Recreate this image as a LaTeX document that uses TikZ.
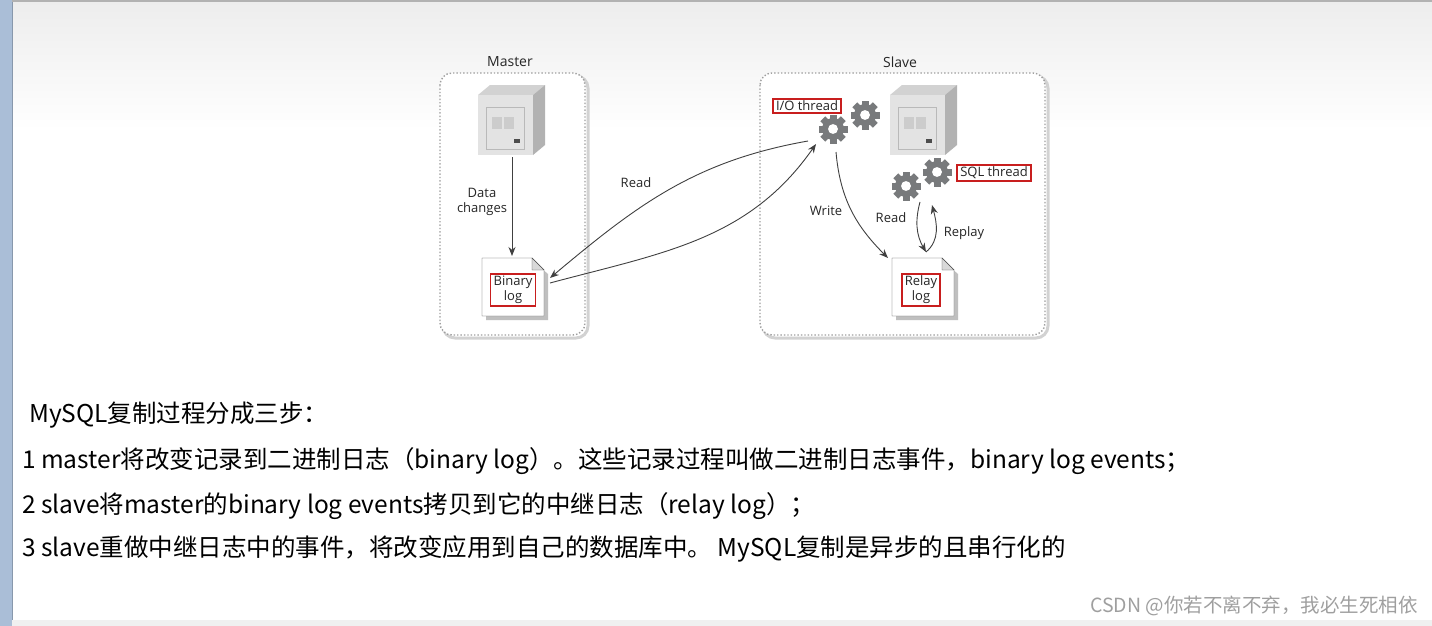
\documentclass[tikz,border=0pt]{standalone}
\usepackage{fontspec}
\setmainfont{Liberation Sans}
\newfontfamily\cjk{Noto Sans CJK SC}
\newfontfamily\lab{Open Sans}
\usetikzlibrary{positioning,calc,arrows.meta}

\definecolor{gearc}{RGB}{120,122,124}
\definecolor{redbox}{RGB}{200,30,30}
\definecolor{barc}{RGB}{170,190,215}

\tikzset{
  area/.style = {draw=gray!75, dotted, line width=1.4pt, rounded corners=12pt},
  areashade/.style = {draw=gray!35, line width=3pt, rounded corners=12pt},
  title/.style = {font=\lab\fontsize{14}{16}\selectfont, text=black!85},
  lbl/.style = {font=\lab\fontsize{13}{15}\selectfont, text=black!85, align=center},
  tag/.style = {draw=redbox, line width=1.6pt, font=\lab\fontsize{13}{15}\selectfont, inner xsep=3pt, inner ysep=2pt, align=center, text=black!85},
  flow/.style = {-{Stealth[length=9pt,width=7pt]}, draw=black!75, line width=0.9pt},
  tooth/.style = {fill=gearc, minimum size=7pt, inner sep=0pt},
  stepline/.style = {font=\cjk\fontsize{24.5}{27}\selectfont, anchor=base west, inner sep=0pt}
}

% gear at (x,y) with radius r
\newcommand{\gearat}[3]{%
  \fill[gearc] (#1,#2) circle (#3);
  \foreach \a in {0,45,...,315}
    \node[tooth, rotate=\a] at ([shift={(\a:#3)}]#1,#2) {};
  \fill[white] (#1,#2) circle (#3*0.45);
}
% server box, front face top left at (x,y)
\newcommand{\serverat}[2]{%
  \fill[gray!35] (#1,#2) -- ++(12,-10) -- ++(55,0) -- ++(-12,10) -- cycle;
  \fill[gray!60] (#1+55,#2) -- ++(12,-10) -- ++(0,60) -- ++(-12,10) -- cycle;
  \fill[gray!22] (#1,#2) rectangle ++(55,60);
  \draw[gray!55] (#1+8,#2+12) rectangle ++(38,42);
  \fill[gray!40] (#1+14,#2+22) rectangle ++(10,12);
  \fill[gray!40] (#1+26,#2+22) rectangle ++(10,12);
  \fill[black!70] (#1+36,#2+44) rectangle ++(6,4);
}
% document with folded corner, top left at (x,y)
\newcommand{\docat}[2]{%
  \fill[gray!50] (#1+4,#2+4) -- ++(48,0) -- ++(14,12) -- ++(0,46) -- ++(-62,0) -- cycle;
  \draw[black!70, fill=white] (#1,#2) -- ++(50,0) -- ++(12,12) -- ++(0,46) -- ++(-62,0) -- cycle;
  \draw[black!70, fill=gray!30] (#1+50,#2) -- ++(0,12) -- ++(12,0) -- cycle;
}

\begin{document}
\begin{tikzpicture}[x=1pt, y=-1pt]
  \useasboundingbox (0,0) rectangle (1432,626);
  \shade[top color=gray!14, bottom color=white] (12,2) rectangle (1432,130);
  \fill[barc] (0,0) rectangle (12,626);
  \draw[barc!80!black, line width=1pt] (12,0) -- (12,626);
  \draw[gray!60, line width=1.5pt] (12,1) -- (1432,1);
  \fill[gray!12] (12,620) rectangle (1432,626);

  % frames
  \draw[areashade] (443,76) rectangle (588,338);
  \draw[areashade] (763,76) rectangle (1048,338);
  \draw[area, fill=white] (440,73) rectangle (585,335);
  \draw[area, fill=white] (760,73) rectangle (1045,335);
  \node[title] (mt) at (510,62) {Master};
  \node[title] (st) at (900,62) {Slave};

  % machines
  \serverat{478}{95}
  \serverat{890}{95}
  \coordinate (msrv) at (512,157);

  % logs
  \docat{482}{258}
  \docat{892}{258}
  \node[tag] (bin) at (513,290) {Binary\\log};
  \node[tag] (relay) at (921,290) {Relay\\log};

  % threads
  \gearat{833}{129}{11}
  \gearat{865}{115}{11}
  \gearat{906}{186}{11}
  \gearat{937}{172}{11}
  \node[tag] (io) at (807,106) {I/O thread};
  \node[tag] (sql) at (994,173) {SQL thread};
  \coordinate (iog) at (816,144);
  \coordinate (sqlg) at (920,202);

  % connectors
  \draw[flow] (msrv) -- (512,256);
  \node[lbl] (dc) at (482,202) {Data\\changes};
  \draw[flow] (808,141) to[out=190, in=40] (550,278);
  \draw[flow] (550,283) to[out=15, in=235] (iog);
  \node[lbl] (rd) at (636,183) {Read};
  \draw[flow] (836,152) to[out=275, in=135] (888,258);
  \node[lbl] (wr) at (826,211) {Write};
  \draw[flow] (sqlg) to[out=255, in=120] (926,252);
  \draw[flow] (926,252) to[out=40, in=285] (932,205);
  \node[lbl] (rd2) at (891,218) {Read};
  \node[lbl] (rp) at (964,233) {Replay};

  % steps
  \node[stepline] (s0) at (29,422) {MySQL复制过程分成三步：};
  \node[stepline] (s1) at (22,468) {1 master将改变记录到二进制日志（binary log）。这些记录过程叫做二进制日志事件，binary log events；};
  \node[stepline] (s2) at (22,513) {2 slave将master的binary log events拷贝到它的中继日志（relay log）；};
  \node[stepline] (s3) at (22,556) {3 slave重做中继日志中的事件，将改变应用到自己的数据库中。 MySQL复制是异步的且串行化的};
  \node[font=\cjk\fontsize{19.5}{22}\selectfont, text=gray!75, anchor=base east, inner sep=0pt] (wm) at (1418,612) {CSDN @你若不离不弃，我必生死相依};
\end{tikzpicture}
\end{document}
